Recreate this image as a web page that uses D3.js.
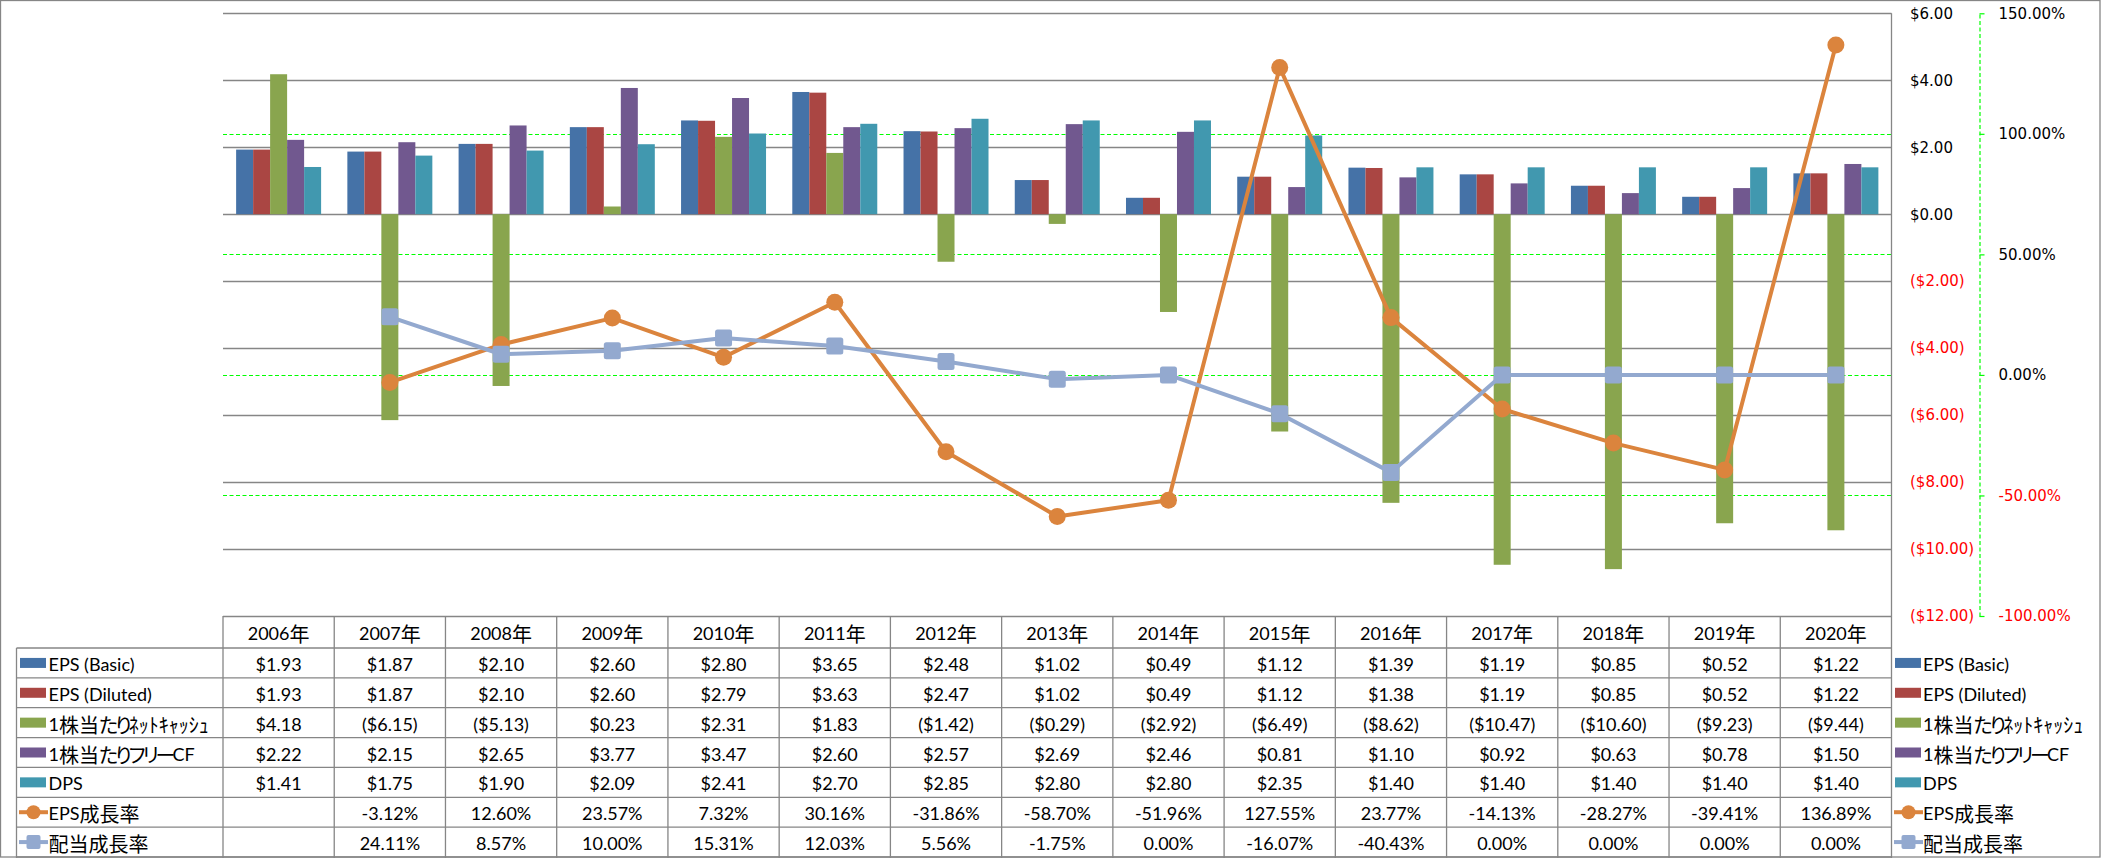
<!DOCTYPE html>
<html>
<head>
<meta charset="utf-8">
<script src="https://cdn.jsdelivr.net/npm/d3@7"></script>
<style>
  html, body { margin: 0; padding: 0; background: #fff; }
  svg { display: block; }
  .palt { font-feature-settings: "palt" 1; letter-spacing: -3px; }
</style>
</head>
<body>
<svg id="chart" width="2101" height="858"></svg>
<script>
const categories = ["2006年","2007年","2008年","2009年","2010年","2011年","2012年","2013年","2014年","2015年","2016年","2017年","2018年","2019年","2020年"];
const epsBasic   = [1.93, 1.87, 2.10, 2.60, 2.80, 3.65, 2.48, 1.02, 0.49, 1.12, 1.39, 1.19, 0.85, 0.52, 1.22];
const epsDiluted = [1.93, 1.87, 2.10, 2.60, 2.79, 3.63, 2.47, 1.02, 0.49, 1.12, 1.38, 1.19, 0.85, 0.52, 1.22];
const netCash    = [4.18, -6.15, -5.13, 0.23, 2.31, 1.83, -1.42, -0.29, -2.92, -6.49, -8.62, -10.47, -10.60, -9.23, -9.44];
const freeCF     = [2.22, 2.15, 2.65, 3.77, 3.47, 2.60, 2.57, 2.69, 2.46, 0.81, 1.10, 0.92, 0.63, 0.78, 1.50];
const dps        = [1.41, 1.75, 1.90, 2.09, 2.41, 2.70, 2.85, 2.80, 2.80, 2.35, 1.40, 1.40, 1.40, 1.40, 1.40];
const epsGrowth  = [null, -3.12, 12.60, 23.57, 7.32, 30.16, -31.86, -58.70, -51.96, 127.55, 23.77, -14.13, -28.27, -39.41, 136.89];
const divGrowth  = [null, 24.11, 8.57, 10.00, 15.31, 12.03, 5.56, -1.75, 0.00, -16.07, -40.43, 0.00, 0.00, 0.00, 0.00];
const yTicks  = [6, 4, 2, 0, -2, -4, -6, -8, -10, -12];
const y2Ticks = [150, 100, 50, 0, -50, -100];

const barSeries = [
  {name: "EPS (Basic)", values: epsBasic, color: "#4572A7"},
  {name: "EPS (Diluted)", values: epsDiluted, color: "#AA4643"},
  {name: "1株当たりﾈｯﾄｷｬｯｼｭ", values: netCash, color: "#89A54E"},
  {name: "1株当たりフリーCF", values: freeCF, color: "#71588F"},
  {name: "DPS", values: dps, color: "#4198AF"}
];
const lineSeries = [
  {name: "EPS成長率", values: epsGrowth, color: "#DB843D", marker: "circle"},
  {name: "配当成長率", values: divGrowth, color: "#93A9CF", marker: "square"}
];

const W = 2101, H = 858;
const plot = {left: 223, right: 1891.5, top: 13.3, bottom: 616};
const gridColor = "#868686";
const latin = "Lato, 'Liberation Sans', sans-serif";
const cjk = "'Noto Sans CJK JP', sans-serif";

const svg = d3.select("#chart");

const x = d3.scaleBand().domain(categories).range([plot.left, plot.right]).paddingInner(0).paddingOuter(0);
const bw = x.bandwidth();
const groupW = bw * 0.764;
const x1 = d3.scaleBand().domain(barSeries.map(s => s.name)).range([(bw - groupW) / 2, (bw + groupW) / 2]).padding(0);
const y = d3.scaleLinear().domain([-12, 6]).range([plot.bottom, plot.top]);
const y2 = d3.scaleLinear().domain([-100, 150]).range([plot.bottom, plot.top]);

// chart border
svg.append("rect").attr("x", 0.5).attr("y", 0.5).attr("width", W - 1.5).attr("height", H - 1.5)
  .attr("fill", "none").attr("stroke", gridColor).attr("stroke-width", 1.3);

// gray gridlines
svg.append("g").selectAll("line").data(yTicks).join("line")
  .attr("x1", plot.left).attr("x2", plot.right)
  .attr("y1", d => Math.round(y(d)) + 0.5).attr("y2", d => Math.round(y(d)) + 0.5)
  .attr("stroke", gridColor).attr("stroke-width", 1.3);

// green dashed secondary gridlines
svg.append("g").selectAll("line").data(y2Ticks.filter(d => d < 150 && d > -100)).join("line")
  .attr("x1", plot.left).attr("x2", plot.right)
  .attr("y1", d => Math.round(y2(d)) + 0.5).attr("y2", d => Math.round(y2(d)) + 0.5)
  .attr("stroke", "#00FF00").attr("stroke-width", 1.2).attr("stroke-dasharray", "4,2.5");

// plot right border
svg.append("line").attr("x1", plot.right).attr("x2", plot.right).attr("y1", plot.top).attr("y2", H)
  .attr("stroke", gridColor).attr("stroke-width", 1.3);

// bars
const gBars = svg.append("g");
barSeries.forEach(s => {
  gBars.append("g").selectAll("rect").data(s.values.map((v, i) => ({v, c: categories[i]}))).join("rect")
    .attr("x", d => x(d.c) + x1(s.name))
    .attr("width", x1.bandwidth())
    .attr("y", d => y(Math.max(0, d.v)))
    .attr("height", d => Math.abs(y(d.v) - y(0)))
    .attr("fill", s.color);
});

// lines
const line = d3.line().defined(d => d.v != null).x(d => x(d.c) + bw / 2).y(d => y2(d.v));
lineSeries.forEach(s => {
  const pts = s.values.map((v, i) => ({v, c: categories[i]}));
  const g = svg.append("g");
  g.append("path").datum(pts).attr("d", line).attr("fill", "none")
    .attr("stroke", s.color).attr("stroke-width", 4).attr("stroke-linejoin", "round");
  const valid = pts.filter(d => d.v != null);
  if (s.marker === "circle") {
    g.selectAll("circle").data(valid).join("circle")
      .attr("cx", d => x(d.c) + bw / 2).attr("cy", d => y2(d.v)).attr("r", 8.5).attr("fill", s.color);
  } else {
    g.selectAll("rect").data(valid).join("rect")
      .attr("x", d => x(d.c) + bw / 2 - 8.5).attr("y", d => y2(d.v) - 8.5)
      .attr("width", 17).attr("height", 17).attr("rx", 2.5).attr("fill", s.color);
  }
});

// primary axis labels
const fmtD = v => v < 0 ? `($${Math.abs(v).toFixed(2)})` : `$${v.toFixed(2)}`;
const fmtP = v => v == null ? "" : `${v.toFixed(2)}%`;
const axis1 = svg.append("g").attr("transform", "translate(1910,0)")
  .call(d3.axisRight(y).tickValues(yTicks).tickSize(0).tickPadding(0).tickFormat(fmtD));
axis1.select(".domain").remove();
axis1.selectAll("text").attr("font-family", "'DejaVu Sans', sans-serif").attr("font-size", 15)
  .attr("fill", d => d < 0 ? "#FF0000" : "#000");

// secondary axis
const axis2 = svg.append("g").attr("transform", "translate(1979.5,0)")
  .call(d3.axisRight(y2).tickValues(y2Ticks).tickSize(5).tickSizeOuter(0).tickPadding(14).tickFormat(d => d.toFixed(2) + "%"));
axis2.select(".domain").attr("stroke", "#00FF00").attr("stroke-width", 1.2).attr("stroke-dasharray", "4,2.5");
axis2.selectAll(".tick line").attr("stroke", "#00FF00").attr("stroke-width", 1.2);
axis2.selectAll("text").attr("font-family", "'DejaVu Sans', sans-serif").attr("font-size", 15)
  .attr("fill", d => d < 0 ? "#FF0000" : "#000");

// mixed text helper (Latin / kanji / kana runs)
const reKana = /[\u3040-\u30ff]/;
const reCjk = /[\u3000-\u9fff\uff00-\uffef]/;
function mixedText(sel, str, latinSize, cjkSize) {
  const runs = str.match(/[\u3040-\u30ff]+|[\u3000-\u303f\u3100-\u9fff\uff00-\uffef]+|[^\u3000-\u9fff\uff00-\uffef]+/g) || [];
  runs.forEach(r => {
    const isKana = reKana.test(r);
    const isCjk = reCjk.test(r);
    const ts = sel.append("tspan").text(r)
      .attr("font-family", isCjk ? cjk : latin)
      .attr("font-size", isCjk ? cjkSize : latinSize);
    if (isKana) ts.attr("class", "palt");
  });
}

// data table
const tableTop = plot.bottom;
const headerH = 32;
const rowsAll = [
  ...barSeries.map(s => ({name: s.name, color: s.color, type: "bar", cells: s.values.map(fmtD)})),
  ...lineSeries.map(s => ({name: s.name, color: s.color, type: s.marker, cells: s.values.map(fmtP)}))
];
const rowH = (H - 1 - (tableTop + headerH)) / rowsAll.length;
const labelLeft = 16.5;
const gT = svg.append("g");
const LS = 18, CS = 20;

// horizontal lines
gT.append("line").attr("x1", labelLeft).attr("x2", plot.right)
  .attr("y1", tableTop + headerH).attr("y2", tableTop + headerH).attr("stroke", gridColor).attr("stroke-width", 1.3);
rowsAll.forEach((r, i) => {
  const yb = tableTop + headerH + (i + 1) * rowH;
  gT.append("line").attr("x1", labelLeft).attr("x2", plot.right).attr("y1", yb).attr("y2", yb)
    .attr("stroke", gridColor).attr("stroke-width", 1.3);
});
// vertical lines
gT.append("line").attr("x1", labelLeft).attr("x2", labelLeft).attr("y1", tableTop + headerH).attr("y2", H)
  .attr("stroke", gridColor).attr("stroke-width", 1.3);
gT.selectAll(".vl").data(categories).join("line").attr("class", "vl")
  .attr("x1", d => x(d)).attr("x2", d => x(d)).attr("y1", tableTop).attr("y2", H)
  .attr("stroke", gridColor).attr("stroke-width", 1.3);

// header
categories.forEach(c => {
  const t = gT.append("text").attr("x", x(c) + bw / 2).attr("y", tableTop + headerH / 2 + 1)
    .attr("text-anchor", "middle").attr("dominant-baseline", "central").attr("fill", "#000");
  mixedText(t, c, LS, CS);
});

function legendKey(g, r, kx, cy) {
  if (r.type === "bar") {
    g.append("rect").attr("x", kx).attr("y", cy - 5).attr("width", 26).attr("height", 10).attr("fill", r.color);
  } else {
    g.append("line").attr("x1", kx - 1).attr("x2", kx + 28).attr("y1", cy).attr("y2", cy)
      .attr("stroke", r.color).attr("stroke-width", 4);
    if (r.type === "circle") {
      g.append("circle").attr("cx", kx + 13.5).attr("cy", cy).attr("r", 7).attr("fill", r.color);
    } else {
      g.append("rect").attr("x", kx + 6.5).attr("y", cy - 7).attr("width", 14).attr("height", 14)
        .attr("rx", 2).attr("fill", r.color);
    }
  }
}

rowsAll.forEach((r, i) => {
  const cy = tableTop + headerH + i * rowH + rowH / 2;
  legendKey(gT, r, 20, cy);
  const t = gT.append("text").attr("x", 48.5).attr("y", cy + 1).attr("dominant-baseline", "central").attr("fill", "#000");
  mixedText(t, r.name, LS, CS);
  r.cells.forEach((v, j) => {
    gT.append("text").attr("x", x(categories[j]) + bw / 2).attr("y", cy + 1)
      .attr("text-anchor", "middle").attr("dominant-baseline", "central")
      .attr("font-family", latin).attr("font-size", LS).attr("fill", "#000").text(v);
  });
  // right legend
  legendKey(gT, r, 1895, cy);
  const t2 = gT.append("text").attr("x", 1923).attr("y", cy + 1).attr("dominant-baseline", "central").attr("fill", "#000");
  mixedText(t2, r.name, LS, CS);
});
</script>
</body>
</html>
